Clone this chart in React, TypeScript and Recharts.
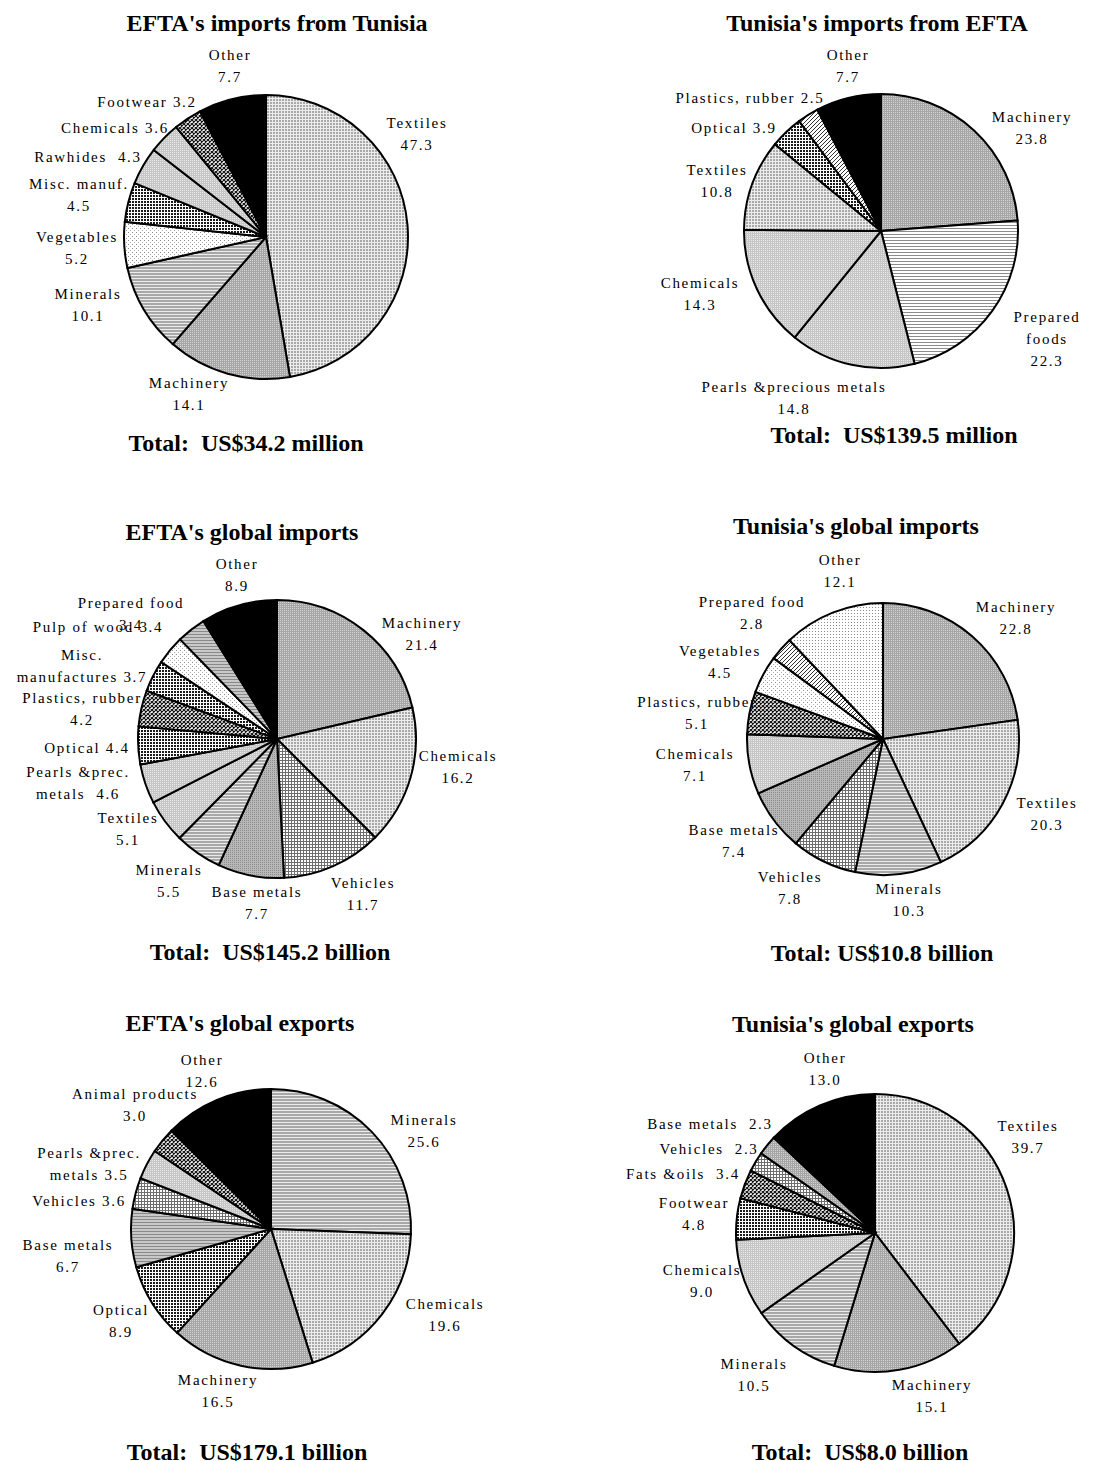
import React from 'react';
import { PieChart, Pie, Cell } from 'recharts';

// ---------- Data ----------
// Chart 1: EFTA's imports from Tunisia
const c1Title = "EFTA's imports from Tunisia";
const c1Total = 'Total:  US$34.2 million';
const c1Categories = ['Textiles', 'Machinery', 'Minerals', 'Vegetables', 'Misc. manuf.', 'Rawhides', 'Chemicals', 'Footwear', 'Other'];
const c1Values = [47.3, 14.1, 10.1, 5.2, 4.5, 4.3, 3.6, 3.2, 7.7];
const c1Formats = ['{n}\n{v}', '{n}\n{v}', '{n}\n{v}', '{n}\n{v}', '{n}\n{v}', '{n}  {v}', '{n} {v}', '{n} {v}', '{n}\n{v}'];

// Chart 2: Tunisia's imports from EFTA
const c2Title = "Tunisia's imports from EFTA";
const c2Total = 'Total:  US$139.5 million';
const c2Categories = ['Machinery', 'Prepared foods', 'Pearls &precious metals', 'Chemicals', 'Textiles', 'Optical', 'Plastics, rubber', 'Other'];
const c2Values = [23.8, 22.3, 14.8, 14.3, 10.8, 3.9, 2.5, 7.7];
const c2Formats = ['{n}\n{v}', 'Prepared\nfoods\n{v}', '{n}\n{v}', '{n}\n{v}', '{n}\n{v}', '{n} {v}', '{n} {v}', '{n}\n{v}'];

// Chart 3: EFTA's global imports
const c3Title = "EFTA's global imports";
const c3Total = 'Total:  US$145.2 billion';
const c3Categories = ['Machinery', 'Chemicals', 'Vehicles', 'Base metals', 'Minerals', 'Textiles', 'Pearls &prec. metals', 'Optical', 'Plastics, rubber', 'Misc. manufactures', 'Pulp of wood', 'Prepared food', 'Other'];
const c3Values = [21.4, 16.2, 11.7, 7.7, 5.5, 5.1, 4.6, 4.4, 4.2, 3.7, 3.4, 3.4, 8.9];
const c3Formats = ['{n}\n{v}', '{n}\n{v}', '{n}\n{v}', '{n}\n{v}', '{n}\n{v}', '{n}\n{v}', 'Pearls &prec.\nmetals  {v}', '{n} {v}', '{n}\n{v}', 'Misc.\nmanufactures {v}', '{n} {v}', '{n}\n{v}', '{n}\n{v}'];

// Chart 4: Tunisia's global imports
const c4Title = "Tunisia's global imports";
const c4Total = 'Total: US$10.8 billion';
const c4Categories = ['Machinery', 'Textiles', 'Minerals', 'Vehicles', 'Base metals', 'Chemicals', 'Plastics, rubber', 'Vegetables', 'Prepared food', 'Other'];
const c4Values = [22.8, 20.3, 10.3, 7.8, 7.4, 7.1, 5.1, 4.5, 2.8, 12.1];
const c4Formats = ['{n}\n{v}', '{n}\n{v}', '{n}\n{v}', '{n}\n{v}', '{n}\n{v}', '{n}\n{v}', '{n}\n{v}', '{n}\n{v}', '{n}\n{v}', '{n}\n{v}'];

// Chart 5: EFTA's global exports
const c5Title = "EFTA's global exports";
const c5Total = 'Total:  US$179.1 billion';
const c5Categories = ['Minerals', 'Chemicals', 'Machinery', 'Optical', 'Base metals', 'Vehicles', 'Pearls &prec. metals', 'Animal products', 'Other'];
const c5Values = [25.6, 19.6, 16.5, 8.9, 6.7, 3.6, 3.5, 3.0, 12.6];
const c5Formats = ['{n}\n{v}', '{n}\n{v}', '{n}\n{v}', '{n}\n{v}', '{n}\n{v}', '{n} {v}', 'Pearls &prec.\nmetals {v}', '{n}\n{v}', '{n}\n{v}'];

// Chart 6: Tunisia's global exports
const c6Title = "Tunisia's global exports";
const c6Total = 'Total:  US$8.0 billion';
const c6Categories = ['Textiles', 'Machinery', 'Minerals', 'Chemicals', 'Footwear', 'Fats &oils', 'Vehicles', 'Base metals', 'Other'];
const c6Values = [39.7, 15.1, 10.5, 9.0, 4.8, 3.4, 2.3, 2.3, 13.0];
const c6Formats = ['{n}\n{v}', '{n}\n{v}', '{n}\n{v}', '{n}\n{v}', '{n}\n{v}', '{n}  {v}', '{n}  {v}', '{n}  {v}', '{n}\n{v}'];

// ---------- Styles (fill patterns per slice) ----------
const c1Patterns = ['dotLight', 'grayMed', 'hlines', 'sparse', 'checkBW', 'grayLight', 'grayLight', 'crossDark', 'black'];
const c2Patterns = ['grayMed', 'hlinesLight', 'grayLight', 'grayLight', 'dotLight', 'checkBW', 'diag', 'black'];
const c3Patterns = ['grayMed', 'dotLight', 'grid', 'grayDots', 'hlines', 'grayLight', 'grayLight', 'checkBW', 'crossDark', 'checkBW', 'sparse', 'hlinesGray', 'black'];
const c4Patterns = ['grayMed', 'dotLight', 'hlines', 'grid', 'grayDots', 'grayLight', 'crossDark', 'sparse', 'diag', 'sparse2'];
const c5Patterns = ['hlines', 'dotLight', 'grayMed', 'checkBW', 'hlinesGray', 'grid', 'grayLight', 'crossDark', 'black'];
const c6Patterns = ['dotLight', 'grayMed', 'hlines', 'grayLight', 'checkBW', 'crossDark', 'grid', 'grayMed', 'black'];

// ---------- Layout: label offsets from pie centre (line-1 centre) ----------
const c1LabelOffsets = [[151, -114], [-77, 146], [-178, 57], [-189, 0], [-187, -53], [-178, -80], [-151, -109], [-119, -135], [-36, -182]];
const c2LabelOffsets = [[151, -114], [166, 86], [-87, 156], [-181, 52], [-164, -61], [-147, -103], [-131, -133], [-33, -176]];
const c3LabelOffsets = [[145, -116], [181, 17], [86, 144], [-20, 153], [-108, 131], [-149, 79], [-199, 33], [-190, 9], [-195, -41], [-195, -84], [-179, -112], [-146, -136], [-40, -175]];
const c4LabelOffsets = [[133, -132], [164, 64], [26, 150], [-93, 138], [-149, 91], [-188, 15], [-186, -37], [-163, -88], [-131, -137], [-43, -179]];
const c5LabelOffsets = [[153, -109], [174, 75], [-53, 151], [-150, 81], [-203, 16], [-192, -28], [-182, -76], [-136, -135], [-69, -169]];
const c6LabelOffsets = [[153, -107], [57, 152], [-121, 131], [-173, 37], [-181, -30], [-192, -59], [-166, -84], [-165, -109], [-50, -175]];

const SERIF = "'Liberation Serif', 'Times New Roman', serif";
const LINE_H = 22;

type Cfg = {
  ox: number; oy: number; w: number; h: number;
  cx: number; cy: number; r: number;
  title: string; titleX: number; titleY: number;
  total: string; totalX: number; totalY: number;
  categories: string[]; values: number[]; formats: string[];
  patterns: string[]; offsets: number[][];
};

const charts: Cfg[] = [
  { ox: 0, oy: 0, w: 550, h: 490, cx: 266, cy: 237, r: 142, title: c1Title, titleX: 277, titleY: 23, total: c1Total, totalX: 246, totalY: 443, categories: c1Categories, values: c1Values, formats: c1Formats, patterns: c1Patterns, offsets: c1LabelOffsets },
  { ox: 551, oy: 0, w: 550, h: 490, cx: 881, cy: 231, r: 137, title: c2Title, titleX: 877, titleY: 23, total: c2Total, totalX: 894, totalY: 435, categories: c2Categories, values: c2Values, formats: c2Formats, patterns: c2Patterns, offsets: c2LabelOffsets },
  { ox: 0, oy: 490, w: 550, h: 510, cx: 277, cy: 739, r: 139, title: c3Title, titleX: 242, titleY: 532, total: c3Total, totalX: 270, totalY: 952, categories: c3Categories, values: c3Values, formats: c3Formats, patterns: c3Patterns, offsets: c3LabelOffsets },
  { ox: 551, oy: 490, w: 550, h: 510, cx: 883, cy: 739, r: 136, title: c4Title, titleX: 856, titleY: 526, total: c4Total, totalX: 882, totalY: 953, categories: c4Categories, values: c4Values, formats: c4Formats, patterns: c4Patterns, offsets: c4LabelOffsets },
  { ox: 0, oy: 1000, w: 550, h: 461, cx: 271, cy: 1229, r: 140, title: c5Title, titleX: 240, titleY: 1023, total: c5Total, totalX: 247, totalY: 1452, categories: c5Categories, values: c5Values, formats: c5Formats, patterns: c5Patterns, offsets: c5LabelOffsets },
  { ox: 551, oy: 1000, w: 550, h: 461, cx: 875, cy: 1233, r: 139, title: c6Title, titleX: 853, titleY: 1024, total: c6Total, totalX: 860, totalY: 1452, categories: c6Categories, values: c6Values, formats: c6Formats, patterns: c6Patterns, offsets: c6LabelOffsets },
];

const Patterns = () => (
  <svg width={0} height={0} style={{ position: 'absolute' }}>
    <defs>
      <pattern id="dotLight" width={3} height={3} patternUnits="userSpaceOnUse">
        <rect width={3} height={3} fill="#ececec" />
        <rect width={2} height={2} fill="#a9a9a9" />
      </pattern>
      <pattern id="grayMed" width={2} height={2} patternUnits="userSpaceOnUse">
        <rect width={2} height={2} fill="#a6a6a6" />
        <rect width={1} height={1} fill="#d4d4d4" />
      </pattern>
      <pattern id="grayLight" width={2} height={2} patternUnits="userSpaceOnUse">
        <rect width={2} height={2} fill="#c6c6c6" />
        <rect width={1} height={1} fill="#e8e8e8" />
      </pattern>
      <pattern id="grayDots" width={2} height={2} patternUnits="userSpaceOnUse">
        <rect width={2} height={2} fill="#b8b8b8" />
        <rect width={1} height={1} fill="#8c8c8c" />
      </pattern>
      <pattern id="hlines" width={3} height={3} patternUnits="userSpaceOnUse">
        <rect width={3} height={3} fill="#ececec" />
        <rect width={3} height={2} fill="#a8a8a8" />
      </pattern>
      <pattern id="hlinesLight" width={3} height={3} patternUnits="userSpaceOnUse">
        <rect width={3} height={3} fill="#ffffff" />
        <rect width={3} height={1} fill="#8c8c8c" />
      </pattern>
      <pattern id="hlinesGray" width={3} height={3} patternUnits="userSpaceOnUse">
        <rect width={3} height={3} fill="#c8c8c8" />
        <rect width={3} height={1} fill="#8a8a8a" />
      </pattern>
      <pattern id="sparse" width={4} height={4} patternUnits="userSpaceOnUse">
        <rect width={4} height={4} fill="#ffffff" />
        <rect width={1} height={1} fill="#8a8a8a" />
        <rect x={2} y={2} width={1} height={1} fill="#b0b0b0" />
      </pattern>
      <pattern id="sparse2" width={3} height={3} patternUnits="userSpaceOnUse">
        <rect width={3} height={3} fill="#ffffff" />
        <rect width={1} height={1} fill="#8a8a8a" />
      </pattern>
      <pattern id="checkBW" width={3} height={3} patternUnits="userSpaceOnUse">
        <rect width={3} height={3} fill="#ffffff" />
        <rect width={2} height={2} fill="#1a1a1a" />
      </pattern>
      <pattern id="crossDark" width={4} height={4} patternUnits="userSpaceOnUse">
        <rect width={4} height={4} fill="#ffffff" />
        <path d="M0,0 L4,4 M4,0 L0,4" stroke="#111" strokeWidth={1.2} />
      </pattern>
      <pattern id="diag" width={4} height={4} patternUnits="userSpaceOnUse">
        <rect width={4} height={4} fill="#ffffff" />
        <path d="M-1,1 L1,-1 M0,4 L4,0 M3,5 L5,3" stroke="#333" strokeWidth={1} />
      </pattern>
      <pattern id="grid" width={3} height={3} patternUnits="userSpaceOnUse">
        <rect width={3} height={3} fill="#ffffff" />
        <rect width={3} height={1} fill="#6e6e6e" />
        <rect width={1} height={3} fill="#6e6e6e" />
      </pattern>
      <pattern id="black" width={4} height={4} patternUnits="userSpaceOnUse">
        <rect width={4} height={4} fill="#000000" />
      </pattern>
    </defs>
  </svg>
);

const formatLabel = (fmt: string, name: string, value: number) =>
  fmt.replace('{n}', name).replace('{v}', value.toFixed(1)).split('\n');

const makeLabel = (cfg: Cfg, localCx: number, localCy: number) => (props: any) => {
  const i = props.index;
  const cx = typeof props.cx === 'number' ? props.cx : localCx;
  const cy = typeof props.cy === 'number' ? props.cy : localCy;
  const [dx, dy] = cfg.offsets[i];
  const lines = formatLabel(cfg.formats[i], cfg.categories[i], cfg.values[i]);
  const x = cx + dx;
  return (
    <g key={`lbl-${i}`}>
      {lines.map((l, k) => (
        <text
          key={k}
          x={x}
          y={cy + dy + k * LINE_H + 5}
          textAnchor="middle"
          fontFamily={SERIF}
          fontSize={15}
          letterSpacing={1.7}
          fill="#000"
          style={{ whiteSpace: 'pre' }}
        >
          {l}
        </text>
      ))}
    </g>
  );
};

const OnePie = ({ cfg }: { cfg: Cfg }) => {
  const data = cfg.categories.map((c, i) => ({ name: c, value: cfg.values[i] }));
  const lcx = cfg.cx - cfg.ox;
  const lcy = cfg.cy - cfg.oy;
  return (
    <div style={{ position: 'absolute', left: cfg.ox, top: cfg.oy, width: cfg.w, height: cfg.h }}>
      <PieChart width={cfg.w} height={cfg.h} margin={{ top: 0, right: 0, bottom: 0, left: 0 }}>
        <Pie
          data={data}
          dataKey="value"
          nameKey="name"
          cx={lcx}
          cy={lcy}
          outerRadius={cfg.r}
          innerRadius={0}
          startAngle={90}
          endAngle={-270}
          isAnimationActive={false}
          label={makeLabel(cfg, lcx, lcy)}
          labelLine={false}
          stroke="#000"
          strokeWidth={2}
        >
          {data.map((d, i) => (
            <Cell key={d.name + i} fill={`url(#${cfg.patterns[i]})`} stroke="#000" strokeWidth={2} />
          ))}
        </Pie>
      </PieChart>
    </div>
  );
};

const Texts = () => (
  <svg width={1101} height={1461} style={{ position: 'absolute', left: 0, top: 0, pointerEvents: 'none' }}>
    {charts.map((c, i) => (
      <g key={i}>
        <text x={c.titleX} y={c.titleY + 8} textAnchor="middle" fontFamily={SERIF} fontWeight="bold" fontSize={24} fill="#000">
          {c.title}
        </text>
        <text x={c.totalX} y={c.totalY + 8} textAnchor="middle" fontFamily={SERIF} fontWeight="bold" fontSize={24} fill="#000" style={{ whiteSpace: 'pre' }}>
          {c.total}
        </text>
      </g>
    ))}
  </svg>
);

export default function App() {
  return (
    <div style={{ position: 'absolute', left: 0, top: 0, width: 1101, height: 1461, overflow: 'hidden', background: '#fff' }}>
      <Patterns />
      {charts.map((c, i) => (
        <OnePie key={i} cfg={c} />
      ))}
      <Texts />
    </div>
  );
}
